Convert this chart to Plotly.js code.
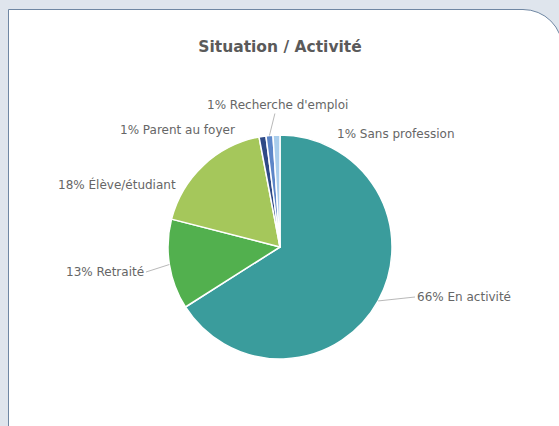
<!DOCTYPE html>
<html>
<head>
<meta charset="utf-8">
<script src="https://cdn.plot.ly/plotly-3.0.1.min.js"></script>
<style>
  html, body { margin: 0; padding: 0; background: #dfe5ed; }
  #wrap { position: relative; width: 559px; height: 426px; overflow: hidden; background: #dfe5ed; }
  #panel { position: absolute; left: 8px; top: 9px; width: 555px; height: 460px; box-sizing: border-box;
           background: #ffffff; border: 1.5px solid #6f87a3; border-top-right-radius: 40px; }
  #chart { position: absolute; left: 0; top: 0; width: 559px; height: 426px; }
</style>
</head>
<body>
<div id="wrap">
  <div id="panel"></div>
  <div id="chart"></div>
</div>
<script>
const categories = ["En activité", "Retraité", "Élève/étudiant", "Parent au foyer", "Recherche d'emploi", "Sans profession"];
const shares = [66, 13, 18, 1, 1, 1];
const sliceColors = ["#3a9c9c", "#52b04e", "#a5c75b", "#2f4a86", "#5d86c8", "#a9cdec"];

const W = 559, H = 426;
const pieDomain = { x: [0.3005, 0.7013], y: [0.1573, 0.6831] };

// label placement (layout, in pixels): [x, y, xanchor, leader?]
const labelPlacement = [
  [415, 297, "left", true],
  [146, 272, "right", true],
  [178, 185, "right", false],
  [237, 130, "right", false],
  [277, 105, "center", true],
  [335, 134, "left", false]
];

const trace = {
  type: "pie",
  labels: categories,
  values: shares,
  sort: false,
  direction: "clockwise",
  rotation: 0,
  marker: { colors: sliceColors, line: { color: "#ffffff", width: 1.5 } },
  textinfo: "none",
  hoverinfo: "none",
  domain: pieDomain
};

// pie geometry from domain
const cx = (pieDomain.x[0] + pieDomain.x[1]) / 2 * W;
const cy = (1 - (pieDomain.y[0] + pieDomain.y[1]) / 2) * H;
const r = Math.min((pieDomain.x[1] - pieDomain.x[0]) * W, (pieDomain.y[1] - pieDomain.y[0]) * H) / 2;
const total = shares.reduce((a, b) => a + b, 0);

const labelFont = { family: "DejaVu Sans, sans-serif", size: 12, color: "#666666" };
let cum = 0;
const annotations = categories.map((cat, i) => {
  const frac = shares[i] / total;
  const mid = (cum + frac / 2) * 2 * Math.PI;
  cum += frac;
  const pct = Math.round(frac * 100) + "% " + cat;
  const [lx, ly, anchor, leader] = labelPlacement[i];
  if (leader) {
    const ex = cx + r * Math.sin(mid);
    const ey = cy - r * Math.cos(mid);
    return {
      text: pct, xref: "paper", yref: "paper",
      x: ex / W, y: 1 - ey / H,
      ax: lx - ex, ay: ly - ey,
      xanchor: anchor, yanchor: "middle",
      showarrow: true, arrowhead: 0, arrowwidth: 0.8, arrowcolor: "#a6a6a6",
      font: labelFont
    };
  }
  return {
    text: pct, xref: "paper", yref: "paper",
    x: lx / W, y: 1 - ly / H,
    xanchor: anchor, yanchor: "middle",
    showarrow: false, font: labelFont
  };
});

const layout = {
  width: W,
  height: H,
  margin: { l: 0, r: 0, t: 0, b: 0 },
  paper_bgcolor: "rgba(0,0,0,0)",
  plot_bgcolor: "rgba(0,0,0,0)",
  showlegend: false,
  title: {
    text: "<b>Situation / Activité</b>",
    x: 280 / W, xanchor: "center",
    y: 1 - 47 / H, yanchor: "middle",
    font: { family: "DejaVu Sans, sans-serif", size: 15.5, color: "#5a5a5a" }
  },
  annotations: annotations
};

Plotly.newPlot("chart", [trace], layout, { displayModeBar: false, staticPlot: true });
</script>
</body>
</html>
